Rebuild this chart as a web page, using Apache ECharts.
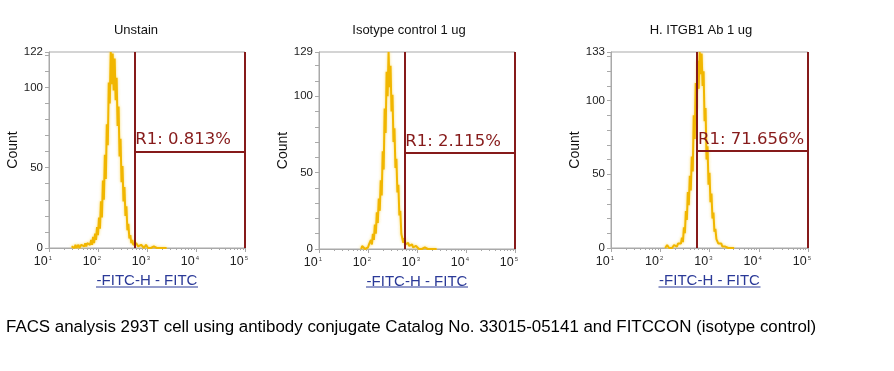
<!DOCTYPE html>
<html><head><meta charset="utf-8">
<script src="https://cdn.jsdelivr.net/npm/echarts@6/dist/echarts.min.js"></script>
<style>html,body{margin:0;padding:0;background:#fff}#c{width:894px;height:371px}</style>
</head><body><div id="c"></div>
<script>
// ---- data ----
var titles = ['Unstain', 'Isotype control 1 ug', 'H. ITGB1 Ab 1 ug'];
var gateLabels = ['R1: 0.813%', 'R1: 2.115%', 'R1: 71.656%'];
var gateLeft = [550, 550, 560];
var gateRight = [100000, 100000, 100000];
var gateY = [60, 63, 66];
var binStep = 0.02; // log10 width of one channel
var binStart = [1.46, 1.86, 2.10]; // log10 of first channel
var counts1 = [1,0,1,0,2,0,1,2,0,1,2,1,2,1,3,1,3,2,4,2,5,2,7,3,9,5,13,8,19,12,29,19,42,30,58,43,77,64,103,90,122,102,121,98,118,92,106,76,88,57,68,41,51,29,38,20,26,11,15,6,8,3,5,2,3,1,3,2,1,2,1,2,1,2,0,1,2,1,0,1,1,0,1,0,1,0,1,0,0,1,0,0,1,0,0,1,0,0];
var counts2 = [0,2,3,1,0,1,0,1,3,2,6,3,10,6,16,10,24,17,33,25,45,35,64,52,92,76,116,100,129,106,120,90,101,70,79,53,59,37,42,22,25,10,11,4,7,3,4,2,4,2,3,1,3,1,2,1,2,1,2,0,1,1,0,1,0,1,0,1,0,0,1,0,0,1,0,0,1,0];
var counts3 = [0,1,2,1,0,1,1,0,1,2,1,2,1,3,2,4,3,7,4,14,10,25,19,38,29,49,39,62,52,90,74,112,94,127,108,133,118,132,110,120,86,95,60,69,43,51,31,37,20,24,11,13,6,7,3,4,2,3,1,2,1,1,0,1,0,1,0,0,1,0,0];
var xTicks = [10, 100, 1000, 10000, 100000];
var yLabelSteps = 50;
var caption = 'FACS analysis 293T cell using antibody conjugate Catalog No. 33015-05141 and FITCCON (isotype control)';
var xName = '-FITC-H - FITC';
var yName = 'Count';
var allCounts = [counts1, counts2, counts3];

// ---- layout ----
var grids = [
  {left: 49, top: 52, width: 196, height: 196},
  {left: 319, top: 52, width: 196, height: 197},
  {left: 611, top: 52, width: 197, height: 196}
];
var titleX = [136, 409, 701];
var GATE = '#861a1a', HIST = '#f1b600', AX = '#a9a9a9', BLUE = '#2b3a98';

var chart = echarts.init(document.getElementById('c'), null, {renderer: 'canvas'});
var xAxes = [], yAxes = [], series = [], gfx = [];
grids.forEach(function (g, i) {
  var cnt = allCounts[i];
  var ymax = Math.max.apply(null, cnt);
  xAxes.push({
    type: 'log', logBase: 10, gridIndex: i, min: xTicks[0], max: xTicks[xTicks.length - 1],
    axisLine: {lineStyle: {color: AX}},
    axisTick: {show: true, length: 4, lineStyle: {color: AX}},
    minorTick: {show: true, splitNumber: 9, length: 2, lineStyle: {color: AX}},
    splitLine: {show: false},
    axisLabel: {
      margin: 7, align: 'right', padding: [0, -3, 0, 0],
      formatter: function (v) { return '{b|10}{s|' + Math.round(Math.log10(v)) + '}'; },
      rich: {
        b: {fontFamily: 'Liberation Sans', fontSize: 12.5, color: '#222', lineHeight: 14},
        s: {fontFamily: 'Liberation Sans', fontSize: 6, color: '#444', verticalAlign: 'top', lineHeight: 14, padding: [0, 0, 6, 1]}
      }
    },
    name: xName, nameLocation: 'middle', nameGap: 24,
    nameTextStyle: {fontFamily: 'Liberation Sans', fontSize: 15, color: BLUE}
  });
  yAxes.push({
    type: 'value', gridIndex: i, min: 0, max: ymax, interval: 10,
    axisLine: {show: true, lineStyle: {color: AX}},
    axisTick: {show: true, length: 4, lineStyle: {color: AX}},
    splitLine: {show: false},
    axisLabel: {
      margin: 6, fontFamily: 'Liberation Sans', fontSize: 11.5, color: '#222',
      formatter: function (v) { return (v === ymax || v % yLabelSteps === 0) ? String(v) : ''; }
    },
    name: yName, nameLocation: 'middle', nameGap: 26, nameRotate: 90,
    nameTextStyle: {fontFamily: 'Liberation Sans', fontSize: 14, color: '#111'}
  });
  var pts = cnt.map(function (c, k) { return [Math.pow(10, binStart[i] + k * binStep), c]; });
  series.push({
    type: 'line', xAxisIndex: i, yAxisIndex: i, data: pts, symbol: 'none', silent: true,
    lineStyle: {color: HIST, width: 2, shadowColor: 'rgba(250,215,90,0.9)', shadowBlur: 3},
    z: 2
  });
  series.push({
    type: 'line', xAxisIndex: i, yAxisIndex: i, data: [], symbol: 'none', silent: true, z: 3,
    markLine: {
      silent: true, symbol: 'none', animation: false,
      lineStyle: {color: GATE, width: 2, type: 'solid'},
      label: {show: false},
      data: [
        {xAxis: gateLeft[i]},
        {xAxis: gateRight[i]},
        [{coord: [gateLeft[i], gateY[i]], label: {show: true, position: 'insideStartTop', formatter: gateLabels[i],
          fontFamily: 'DejaVu Sans', fontSize: 16.5, color: GATE, distance: [1, 3]}},
         {coord: [gateRight[i], gateY[i]]}]
      ]
    }
  });
  gfx.push({type: 'text', silent: true, style: {text: titles[i], x: titleX[i], y: 30, textAlign: 'center', textVerticalAlign: 'middle',
    font: '13px "Liberation Sans"', fill: '#111'}});
  var cx = g.left + g.width / 2;
  gfx.push({type: 'line', silent: true, shape: {x1: cx - 51, y1: 287, x2: cx + 51, y2: 287}, style: {stroke: BLUE, lineWidth: 1}});
});
gfx.push({type: 'text', silent: true, style: {text: caption, x: 6, y: 327, textVerticalAlign: 'middle',
  font: '16.9px "Liberation Sans"', fill: '#000'}});

chart.setOption({
  animation: false,
  backgroundColor: '#fff',
  grid: grids.map(function (g) { return Object.assign({show: true, borderColor: AX, borderWidth: 1, backgroundColor: 'transparent'}, g); }),
  xAxis: xAxes, yAxis: yAxes, series: series, graphic: gfx
});
</script></body></html>
